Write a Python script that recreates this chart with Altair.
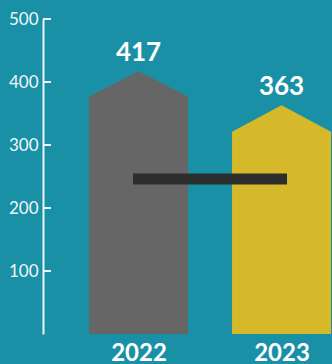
import altair as alt
import pandas as pd

years = [2022, 2023]
peaks = [417, 363]
shoulders = [377, 321]
colors = ["#666666", "#d5b92b"]
benchmark = 246
y_ticks = [100, 200, 300, 400, 500]

HALF = 0.346  # half bar width in year units

rows = []
for yr, pk, sh in zip(years, peaks, shoulders):
    rows.append({"x": yr - HALF, "y": sh, "base": 0, "year": str(yr)})
    rows.append({"x": yr, "y": pk, "base": 0, "year": str(yr)})
    rows.append({"x": yr + HALF, "y": sh, "base": 0, "year": str(yr)})
house_df = pd.DataFrame(rows)
label_df = pd.DataFrame({"x": years, "y": peaks, "label": [str(p) for p in peaks]})
bench_df = pd.DataFrame({"x": [years[0]], "x2": [years[1]], "y": [benchmark]})
tick_df = pd.DataFrame({"v": y_ticks})

xscale = alt.Scale(domain=[2021.332, 2023.353], nice=False, zero=False)
yscale = alt.Scale(domain=[0, 500], nice=False)

xaxis = alt.Axis(values=years, format="d", title=None, domain=False, ticks=False,
                 grid=False, labelColor="white", labelFontSize=24,
                 labelFontWeight="bold", labelFont="Lato", labelPadding=7)
yaxis = alt.Axis(values=y_ticks, title=None, ticks=False, grid=False,
                 domainColor="#e8f4f6", domainWidth=2, labelColor="#eef7f9",
                 labelFontSize=17, labelFont="Lato", labelPadding=5)

house_layers = []
for yr, col in zip(years, colors):
    house_layers.append(
        alt.Chart(house_df).transform_filter(alt.datum.year == str(yr))
        .mark_area(interpolate="linear", orient="vertical", color=col, opacity=1)
        .encode(
            x=alt.X("x:Q", scale=xscale, axis=xaxis),
            y=alt.Y("y:Q", scale=yscale, stack=None, axis=yaxis),
            y2="base:Q",
        )
    )

ticks = alt.Chart(tick_df).mark_rule(color="#e8f4f6", strokeWidth=2).encode(
    x=alt.value(0), x2=alt.value(8), y=alt.Y("v:Q", scale=yscale)
)

bench = alt.Chart(bench_df).mark_rule(color="#2c2e2d", strokeWidth=11, strokeCap="square").encode(
    x=alt.X("x:Q", scale=xscale), x2="x2:Q", y=alt.Y("y:Q", scale=yscale)
)

labels = alt.Chart(label_df).mark_text(
    color="white", fontSize=26, fontWeight="bold", font="Lato", baseline="alphabetic", dy=-10
).encode(
    x=alt.X("x:Q", scale=xscale), y=alt.Y("y:Q", scale=yscale), text="label:N"
)

chart = alt.layer(*house_layers, ticks, bench, labels).properties(
    width=289, height=315, background="#1a90a6",
    padding={"left": 43, "top": 19, "right": 0, "bottom": 30},
    autosize=alt.AutoSizeParams(type="none"),
).configure_view(stroke=None)

chart.save("out.html", embed_options={"renderer": "svg", "actions": False})
